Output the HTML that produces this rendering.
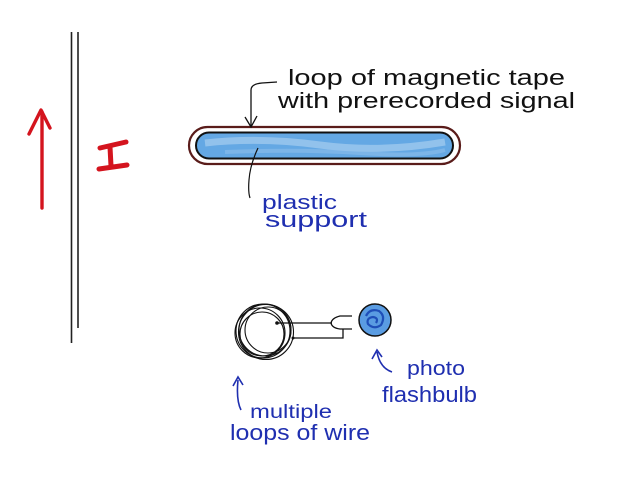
<!DOCTYPE html>
<html><head><meta charset="utf-8"><style>
html,body{margin:0;padding:0;background:#fff;}
svg{display:block;}
text{font-family:"Liberation Sans","DejaVu Sans",sans-serif;}
</style></head><body>
<svg width="624" height="496" viewBox="0 0 624 496" xmlns="http://www.w3.org/2000/svg">
<rect width="624" height="496" fill="#fff"/>
<!-- wire double line -->
<line x1="71.5" y1="32" x2="71.5" y2="343" stroke="#222" stroke-width="1.6"/>
<line x1="78" y1="32" x2="78" y2="328" stroke="#222" stroke-width="1.6"/>
<!-- red arrow -->
<path d="M42 208 L42 112" stroke="#d4141e" stroke-width="3.4" fill="none" stroke-linecap="round"/>
<path d="M29 134 L41 110 L50 128" stroke="#d4141e" stroke-width="3.4" fill="none" stroke-linecap="round" stroke-linejoin="round"/>
<!-- I -->
<path d="M100 148 L126 142 M110 147 L111 166 M99 169 L127 165" stroke="#d4141e" stroke-width="5" fill="none" stroke-linecap="round"/>
<!-- tape loop -->
<rect x="189" y="127" width="271" height="37" rx="18.5" ry="18.5" fill="#fff" stroke="#5a1c1a" stroke-width="2.2"/>
<rect x="196" y="132.5" width="257" height="26" rx="13" ry="13" fill="#64a8e4" stroke="#111" stroke-width="2"/>
<path d="M205 143 Q260 137 320 145 T445 142" stroke="#b0d4f2" stroke-width="7" fill="none" opacity="0.6"/>
<path d="M225 152 Q300 149 360 153 T445 150" stroke="#94c2ec" stroke-width="4" fill="none" opacity="0.5"/>
<!-- leader to tape -->
<path d="M277 82 L262 83 Q251 84 251 90 L251 126" stroke="#111" stroke-width="1.3" fill="none"/>
<path d="M245 117 L251 127 L257 116" stroke="#111" stroke-width="1.3" fill="none"/>
<text x="288" y="85" font-size="22" fill="#111" textLength="277" lengthAdjust="spacingAndGlyphs">loop of magnetic tape</text>
<text x="278" y="108" font-size="22" fill="#111" textLength="297" lengthAdjust="spacingAndGlyphs">with prerecorded signal</text>
<!-- plastic support -->
<path d="M258 148 Q250 165 249 180 Q248 192 250 198" stroke="#111" stroke-width="1.2" fill="none"/>
<text x="262" y="209" font-size="20" fill="#1f2fb0" textLength="75" lengthAdjust="spacingAndGlyphs">plastic</text>
<text x="265" y="227" font-size="22" fill="#1f2fb0" textLength="102" lengthAdjust="spacingAndGlyphs">support</text>
<!-- coil -->
<g fill="none" stroke="#111" stroke-width="1.1">
<circle cx="263" cy="331" r="27"/>
<circle cx="265" cy="330" r="26"/>
<circle cx="260" cy="333" r="25"/>
<circle cx="266" cy="332" r="27.5"/>
<circle cx="268" cy="330" r="23"/>
<circle cx="262" cy="334" r="22"/>
</g>
<circle cx="277" cy="323" r="1.8" fill="#111"/>
<circle cx="293" cy="338" r="1.5" fill="#111"/>
<path d="M277 323 L332 323" stroke="#111" stroke-width="1.3" fill="none"/>
<path d="M352 316 L340 316 Q332 318 331 323 Q332 328 340 329 L352 329" stroke="#111" stroke-width="1.3" fill="none"/>
<path d="M293 338 L343 338 L343 329" stroke="#111" stroke-width="1.3" fill="none"/>
<!-- bulb -->
<circle cx="375" cy="320" r="16" fill="#5a9ce2" stroke="#111" stroke-width="1.5"/>
<path d="M366 316 Q370 308 379 311 Q386 316 381 325 Q374 330 368 324 Q366 318 373 317 Q379 318 376 323" stroke="#1f4fb8" stroke-width="2.2" fill="none"/>
<!-- photo flashbulb -->
<path d="M392 372 Q380 368 377 352" stroke="#1f2fb0" stroke-width="1.6" fill="none"/>
<path d="M372 359 L377 350 L382 357" stroke="#1f2fb0" stroke-width="1.6" fill="none"/>
<text x="407" y="375" font-size="20" fill="#1f2fb0" textLength="58" lengthAdjust="spacingAndGlyphs">photo</text>
<text x="382" y="402" font-size="22" fill="#1f2fb0" textLength="95" lengthAdjust="spacingAndGlyphs">flashbulb</text>
<!-- multiple loops of wire -->
<path d="M241 410 Q236 400 238 380" stroke="#1f2fb0" stroke-width="1.6" fill="none"/>
<path d="M233 386 L238 377 L243 385" stroke="#1f2fb0" stroke-width="1.6" fill="none"/>
<text x="250" y="418" font-size="19" fill="#1f2fb0" textLength="82" lengthAdjust="spacingAndGlyphs">multiple</text>
<text x="230" y="440" font-size="22" fill="#1f2fb0" textLength="140" lengthAdjust="spacingAndGlyphs">loops of wire</text>
</svg>
</body></html>
